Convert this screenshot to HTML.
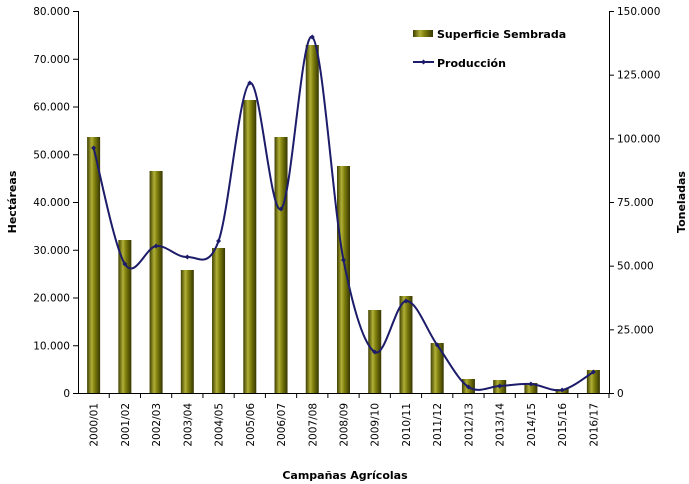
<!DOCTYPE html>
<html><head><meta charset="utf-8"><style>
html,body{margin:0;padding:0;background:#fff;}
svg{display:block;font-family:"DejaVu Sans","Liberation Sans",sans-serif;}
</style></head><body>
<svg width="689" height="484" viewBox="0 0 689 484" xmlns="http://www.w3.org/2000/svg">
<defs>
<linearGradient id="g" x1="0" x2="1" y1="0" y2="0">
<stop offset="0" stop-color="#3f3f00"/>
<stop offset="0.35" stop-color="#b0b038"/>
<stop offset="0.55" stop-color="#848410"/>
<stop offset="1" stop-color="#363600"/>
</linearGradient>
</defs>
<g id="bars" fill="url(#g)"></g>
<g stroke="#000" stroke-width="1" fill="none">
<line x1="78.5" y1="11" x2="78.5" y2="393"/>
<line x1="609.5" y1="11" x2="609.5" y2="393"/>
<line x1="78" y1="393.5" x2="610" y2="393.5"/>
<g id="ticks"></g>
</g>
<path id="line" fill="none" stroke="#1c1c6a" stroke-width="2"/>
<g id="marks" fill="#1c1c6a"></g>
<g id="labels" font-size="10.5" fill="#000"></g>
<text font-size="11" font-weight="bold" transform="translate(16,202) rotate(-90)" text-anchor="middle">Hectáreas</text>
<text font-size="11" font-weight="bold" transform="translate(685,202) rotate(-90)" text-anchor="middle">Toneladas</text>
<text font-size="11" font-weight="bold" x="345" y="479" text-anchor="middle">Campañas Agrícolas</text>
<rect x="413" y="30" width="20" height="7" fill="url(#g)"/>
<text font-size="11" font-weight="bold" x="437" y="38">Superficie Sembrada</text>
<line x1="413" y1="62" x2="434" y2="62" stroke="#1c1c6a" stroke-width="2"/>
<path d="M423.5 59.5 L426 62 L423.5 64.5 L421 62Z" fill="#1c1c6a"/>
<text font-size="11" font-weight="bold" x="437" y="67">Producción</text>
</svg>
<script>
var ns="http://www.w3.org/2000/svg";
function el(t,a,p,txt){var e=document.createElementNS(ns,t);for(var k in a)e.setAttribute(k,a[k]);if(txt)e.textContent=txt;document.getElementById(p).appendChild(e);return e;}
var cats=["2000/01","2001/02","2002/03","2003/04","2004/05","2005/06","2006/07","2007/08","2008/09","2009/10","2010/11","2011/12","2012/13","2013/14","2014/15","2015/16","2016/17"];
var bt=[137,240,171,270,248,100,137,45,166,310,296,343,379,380,383,389,370];
var ly=[148,264,246,257,241,83,209,37,260,352,301,345,387,386,384,390,372];
var x0=78,w=531/17,y0=393;
var pts=[];
for(var i=0;i<17;i++){
 var cx=x0+w*(i+0.5);
 el("rect",{x:cx-6.5,y:bt[i],width:13,height:y0-bt[i]},"bars");
 el("line",{x1:x0+w*(i+1),y1:393,x2:x0+w*(i+1),y2:398},"ticks");
 el("text",{"transform":"translate("+(cx+4)+",403) rotate(-90)","text-anchor":"end"},"labels",cats[i]);
 pts.push([cx,ly[i]]);
 el("path",{d:"M"+cx+" "+(ly[i]-2.5)+"L"+(cx+2.5)+" "+ly[i]+"L"+cx+" "+(ly[i]+2.5)+"L"+(cx-2.5)+" "+ly[i]+"Z"},"marks");
}
var d="M"+pts[0][0]+" "+pts[0][1];
for(var i=0;i<16;i++){
 var p0=pts[Math.max(0,i-1)],p1=pts[i],p2=pts[i+1],p3=pts[Math.min(16,i+2)];
 d+=" C"+(p1[0]+(p2[0]-p0[0])/6)+" "+(p1[1]+(p2[1]-p0[1])/6)+" "+(p2[0]-(p3[0]-p1[0])/6)+" "+(p2[1]-(p3[1]-p1[1])/6)+" "+p2[0]+" "+p2[1];
}
document.getElementById("line").setAttribute("d",d);
for(var k=0;k<=8;k++){
 var y=393-k*382/8;
 el("line",{x1:73,y1:y+0.5,x2:78,y2:y+0.5},"ticks");
 el("text",{x:70,y:y+4,"text-anchor":"end"},"labels",k==0?"0":(k*10)+".000");
}
for(var k=0;k<=6;k++){
 var y=393-k*382/6;
 el("line",{x1:609,y1:y+0.5,x2:614,y2:y+0.5},"ticks");
 el("text",{x:617,y:y+4},"labels",k==0?"0":(k*25)+".000");
}
</script>
</body></html>
